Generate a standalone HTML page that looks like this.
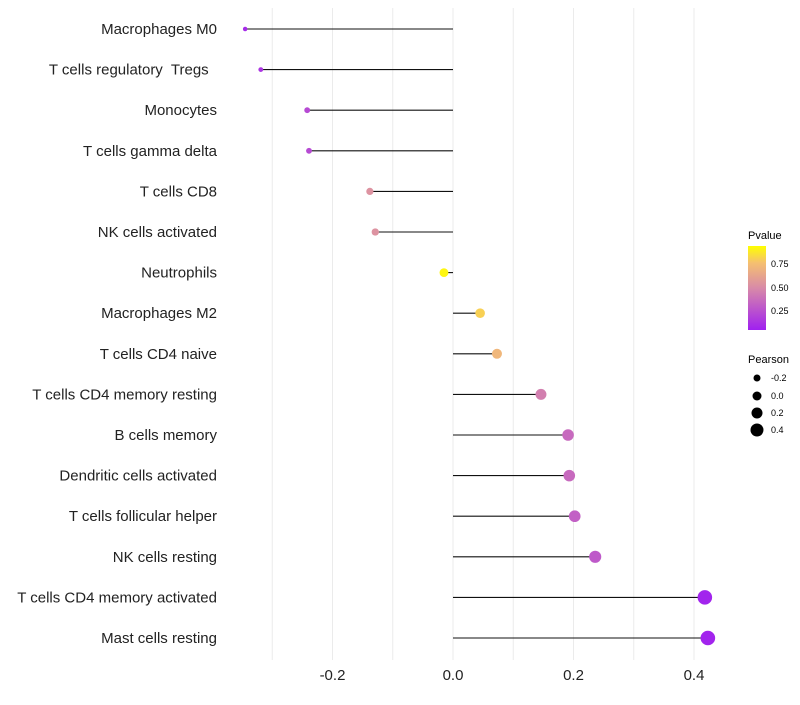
<!DOCTYPE html>
<html><head><meta charset="utf-8"><style>
body{margin:0;background:#fff;font-family:"Liberation Sans",sans-serif}
text{white-space:pre}
</style></head><body>
<svg id="c" width="800" height="700" xmlns="http://www.w3.org/2000/svg" font-family="Liberation Sans, sans-serif">
<defs><linearGradient id="pg" x1="0" y1="1" x2="0" y2="0">
<stop offset="0" stop-color="#a020f0"/><stop offset="0.5" stop-color="#d88aa8"/><stop offset="0.8" stop-color="#f5c070"/><stop offset="1" stop-color="#ffff00"/></linearGradient></defs>
<g id="grid"></g><g id="marks"></g><g id="labels"></g><g id="ticks"></g>
<g>
<text x="748" y="239" font-size="11">Pvalue</text>
<rect x="748" y="246" width="18" height="84" fill="url(#pg)"/>
<text x="771" y="267" font-size="9">0.75</text>
<text x="771" y="291" font-size="9">0.50</text>
<text x="771" y="314" font-size="9">0.25</text>
<text x="748" y="363" font-size="11">Pearson</text>
<circle cx="757" cy="378" r="3.5"/><text x="771" y="381" font-size="9">-0.2</text>
<circle cx="757" cy="396" r="4.5"/><text x="771" y="399" font-size="9">0.0</text>
<circle cx="757" cy="413" r="5.5"/><text x="771" y="416" font-size="9">0.2</text>
<circle cx="757" cy="430" r="6.5"/><text x="771" y="433" font-size="9">0.4</text>
</g>
</svg>
<script>
const cells=["Macrophages M0","T cells regulatory  Tregs  ","Monocytes","T cells gamma delta","T cells CD8","NK cells activated","Neutrophils","Macrophages M2","T cells CD4 naive","T cells CD4 memory resting","B cells memory","Dendritic cells activated","T cells follicular helper","NK cells resting","T cells CD4 memory activated","Mast cells resting"];
const pearson=[-0.345,-0.319,-0.242,-0.239,-0.138,-0.129,-0.015,0.045,0.073,0.146,0.191,0.193,0.202,0.236,0.418,0.423];
const pvals=[0.05,0.1,0.2,0.2,0.55,0.55,0.97,0.85,0.75,0.45,0.35,0.35,0.3,0.27,0.02,0.02];
const xticks=[-0.2,0.0,0.2,0.4];
const xtickLabels=["-0.2","0.0","0.2","0.4"];
const NS="http://www.w3.org/2000/svg";
const x=v=>453+v*602.5, y=i=>29+i*40.6;
function mk(t,a,p){const e=document.createElementNS(NS,t);for(const k in a)e.setAttribute(k,a[k]);document.getElementById(p).appendChild(e);return e;}
function lerp(a,b,t){return a.map((v,i)=>Math.round(v+(b[i]-v)*t));}
function col(p){const s=[[0,[160,32,240]],[0.5,[216,138,168]],[0.62,[228,160,150]],[0.8,[245,192,112]],[1,[255,255,0]]];
for(let i=1;i<s.length;i++)if(p<=s[i][0]){const c=lerp(s[i-1][1],s[i][1],(p-s[i-1][0])/(s[i][0]-s[i-1][0]));return `rgb(${c})`;}return "rgb(255,255,0)";}
for(let v=-0.3;v<=0.45;v+=0.1){const g=mk("line",{x1:x(v),x2:x(v),y1:8,y2:660,stroke:"#ebebeb","stroke-width":1},"grid");

}
xticks.forEach((t,i)=>{const e=mk("text",{x:x(t),y:680,"font-size":15,"text-anchor":"middle",fill:"#222"},"ticks");e.textContent=xtickLabels[i];

});
cells.forEach((c,i)=>{
const l=mk("text",{x:217,y:y(i)+5,"font-size":15,"text-anchor":"end",fill:"#222"},"labels");l.textContent=c;


const s=mk("line",{x1:x(0),x2:x(pearson[i]),y1:y(i),y2:y(i),stroke:"#111","stroke-width":1.1},"marks");


const d=mk("circle",{cx:x(pearson[i]),cy:y(i),r:2.2+(pearson[i]+0.35)*6.6,fill:col(pvals[i])},"marks");


});
</script>
</body></html>
